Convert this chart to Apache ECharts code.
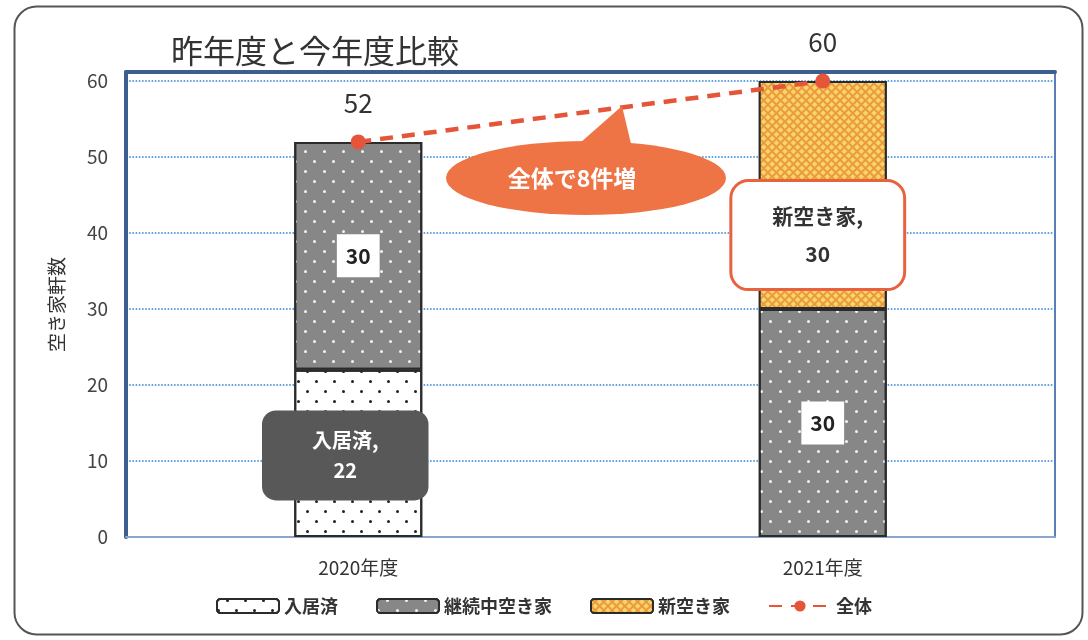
<!DOCTYPE html>
<html><head><meta charset="utf-8">
<script src="https://cdn.jsdelivr.net/npm/echarts@6/dist/echarts.min.js"></script>
<style>html,body{margin:0;padding:0;background:#fff}#c{width:1088px;height:640px}</style>
</head><body><div id="c"></div>
<script>
const categories = ['2020年度', '2021年度'];
const moved = [22, null];        // 入居済
const continuing = [30, 30];     // 継続中空き家
const newVacant = [null, 30];    // 新空き家
const total = [52, 60];          // 全体
const yTicks = [0, 10, 20, 30, 40, 50, 60];

const FONT = '"Noto Sans CJK JP", "Noto Sans", sans-serif';
const chart = echarts.init(document.getElementById('c'));
const barBorder = { borderColor: '#2b2b2b', borderWidth: 2 };

chart.setOption({
  backgroundColor: '#ffffff',
  textStyle: { fontFamily: FONT },
  title: {
    text: '昨年度と今年度比較', left: 166, top: 30,
    textStyle: { fontSize: 32, fontWeight: 'normal', color: '#333', fontFamily: FONT }
  },
  legend: {
    bottom: 20, left: 'center', itemWidth: 62, itemHeight: 14, itemGap: 38,
    textStyle: { fontSize: 18, color: '#333', fontWeight: 'bold', fontFamily: FONT },
    data: ['入居済', '継続中空き家', '新空き家', '全体']
  },
  grid: { left: 126, right: 33, top: 72, bottom: 103, show: true, borderColor: '#5a7fb5', borderWidth: 2 },
  xAxis: [{
    type: 'category', data: categories,
    axisTick: { show: false },
    axisLine: { lineStyle: { color: '#8aa6c8', width: 2 } },
    axisLabel: { fontSize: 19, color: '#333', margin: 21, fontFamily: FONT }
  }, {
    type: 'category', data: categories, position: 'top',
    axisTick: { show: false }, axisLabel: { show: false },
    axisLine: { lineStyle: { color: '#3d5f8f', width: 4 } }
  }],
  yAxis: {
    type: 'value', min: 0, max: 61.2, interval: 10,
    name: '空き家軒数', nameLocation: 'middle', nameGap: 60, nameRotate: 90,
    nameTextStyle: { fontSize: 19, color: '#333', fontFamily: FONT },
    axisLine: { show: true, lineStyle: { color: '#3d5f8f', width: 4 } },
    axisTick: { show: false },
    axisLabel: {
      fontSize: 19, color: '#444', margin: 18, showMaxLabel: false,
      formatter: v => (yTicks.indexOf(v) >= 0 ? String(v) : '')
    },
    splitLine: { lineStyle: { color: '#2f86d8', type: 'dotted', width: 1.6 } }
  },
  series: [
    {
      name: '入居済', type: 'bar', stack: 's', barWidth: 128, data: moved,
      itemStyle: Object.assign({
        color: '#ffffff',
        decal: { symbol: 'circle', symbolSize: 1, color: '#222', dashArrayX: [[3, 15], [0, 9, 3, 6]], dashArrayY: [3, 6.5] }
      }, barBorder),
      label: {
        show: true, position: 'inside', offset: [-13, 2],
        formatter: p => p.seriesName + ',\n' + p.value,
        backgroundColor: '#585858', borderRadius: 14, padding: [15, 50],
        color: '#fff', fontSize: 20, fontWeight: 'bold', lineHeight: 30, fontFamily: FONT
      }
    },
    {
      name: '継続中空き家', type: 'bar', stack: 's', barWidth: 128, data: continuing,
      itemStyle: Object.assign({
        color: '#878787',
        decal: { symbol: 'circle', symbolSize: 1, color: 'rgba(255,255,255,0.9)', dashArrayX: [[2.2, 16], [0, 9, 2.2, 7]], dashArrayY: [2.2, 7] }
      }, barBorder),
      label: {
        show: true, position: 'inside', formatter: '{c}',
        backgroundColor: '#ffffff', padding: [12, 9, 10, 9],
        color: '#222', fontSize: 21, fontWeight: 'bold', fontFamily: FONT
      }
    },
    {
      name: '新空き家', type: 'bar', stack: 's', barWidth: 128, data: newVacant,
      itemStyle: Object.assign({
        color: '#f2b64e',
        decal: { symbol: 'rect', symbolSize: 1, color: '#f8d46c', backgroundColor: '#eb9a3c', dashArrayX: [4, 1.6], dashArrayY: [4, 1.6], rotation: Math.PI / 4 }
      }, barBorder),
      label: {
        show: true, position: 'inside', offset: [-5, 40],
        formatter: p => p.seriesName + ',\n' + p.value,
        backgroundColor: '#ffffff', borderColor: '#e9623f', borderWidth: 3, borderRadius: 16,
        padding: [15, 40], color: '#333', fontSize: 21, fontWeight: 'bold', lineHeight: 38, fontFamily: FONT
      }
    },
    {
      name: '全体', type: 'line', data: total, z: 5,
      symbol: 'circle', symbolSize: 15,
      lineStyle: { color: '#e4553a', width: 4.5, type: [13, 9] },
      itemStyle: { color: '#e4553a' },
      label: { show: true, position: 'top', distance: 18, fontSize: 26, color: '#333', fontFamily: FONT }
    }
  ],
  graphic: [
    { type: 'rect', left: 12, top: 4, shape: { width: 1068, height: 628, r: 22 },
      style: { fill: 'none', stroke: '#555', lineWidth: 2 }, silent: true },
    { type: 'polygon', z: 10, shape: { points: [[572, 150], [632, 148], [622, 106]] },
      style: { fill: '#ee7445' } },
    { type: 'circle', z: 10, x: 586, y: 178, scaleX: 140 / 37, shape: { cx: 0, cy: 0, r: 37 },
      style: { fill: '#ee7445' } },
    { type: 'text', z: 11, x: 572, y: 178,
      style: { text: '全体で8件増', fill: '#fff', fontSize: 23, fontWeight: 'bold', fontFamily: FONT, align: 'center', verticalAlign: 'middle' } }
  ]
});
</script></body></html>
